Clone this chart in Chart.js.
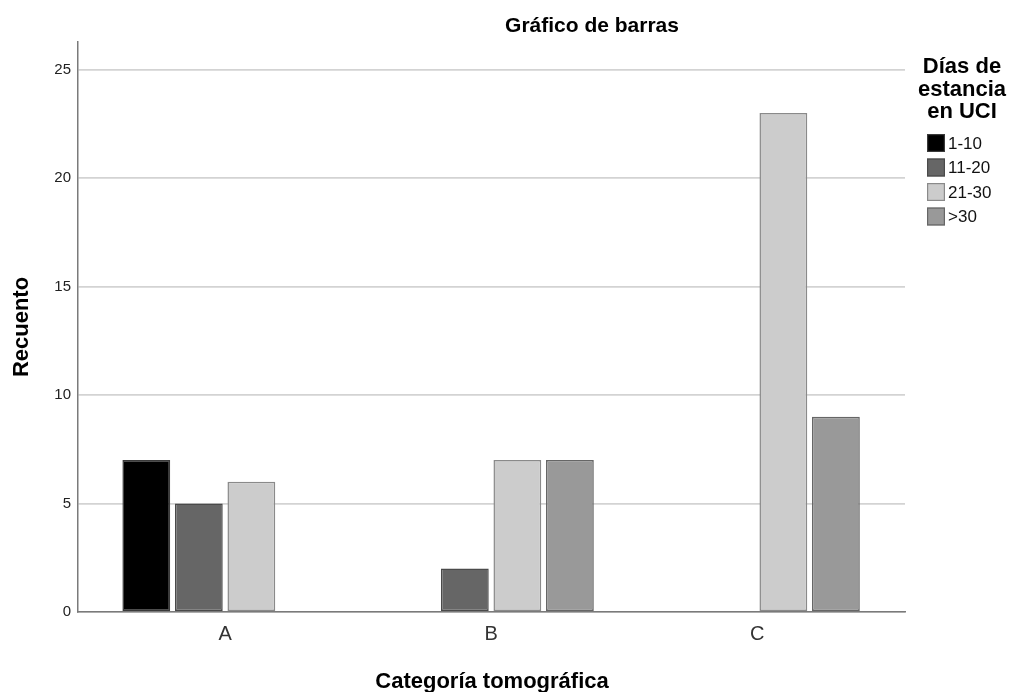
<!DOCTYPE html>
<html><head><meta charset="utf-8">
<script src="https://cdn.jsdelivr.net/npm/chart.js@4/dist/chart.umd.min.js"></script>
<style>html,body{margin:0;padding:0;background:#fff}#wrap{width:1011px;height:692px}</style>
</head><body><div id="wrap"><canvas id="c" width="1011" height="692"></canvas></div>
<script>
const categories = ['A', 'B', 'C'];
const seriesNames = ['1-10', '11-20', '21-30', '>30'];
const s1_10 = [7, null, null];
const s11_20 = [5, 2, null];
const s21_30 = [6, 7, 23];
const sOver30 = [null, 7, 9];
const yTicks = [0, 5, 10, 15, 20, 25];
const chartTitle = 'Gráfico de barras';
const xTitle = 'Categoría tomográfica';
const yTitle = 'Recuento';
const legendTitle = ['Días de', 'estancia', 'en UCI'];

const colors = ['#000000', '#666666', '#cccccc', '#999999'];
const borders = ['#3a3a3a', '#4a4a4a', '#8a8a8a', '#666666'];
const FONT = '"Liberation Sans", Arial, sans-serif';
const allSeries = [s1_10, s11_20, s21_30, sOver30];

const datasets = allSeries.map((arr, i) => ({
  label: seriesNames[i],
  data: arr.map((v, j) => ({x: j, y: v})),
  backgroundColor: colors[i],
  borderColor: borders[i],
  borderWidth: 1.5,
  borderSkipped: false,
  barPercentage: 0.91,
  categoryPercentage: 0.79
}));

const textPlugin = {
  id: 'texts',
  afterDraw(chart) {
    const ctx = chart.ctx;
    ctx.save();
    ctx.fillStyle = '#000';
    ctx.textAlign = 'center';
    ctx.textBaseline = 'alphabetic';
    ctx.font = 'bold 21px ' + FONT;
    ctx.fillText(chartTitle, 592, 32);
    ctx.font = 'bold 22px ' + FONT;
    ctx.fillText(xTitle, 492, 688);
    ctx.save();
    ctx.translate(28, 327);
    ctx.rotate(-Math.PI / 2);
    ctx.fillText(yTitle, 0, 0);
    ctx.restore();
    ctx.font = 'bold 22px ' + FONT;
    legendTitle.forEach((t, i) => ctx.fillText(t, 962, 73 + i * 22.5));
    ctx.textAlign = 'left';
    ctx.textBaseline = 'middle';
    ctx.font = '17px ' + FONT;
    seriesNames.forEach((n, i) => {
      const y = 143 + i * 24.5;
      ctx.fillStyle = colors[i];
      ctx.fillRect(927, y - 9, 18, 18);
      ctx.strokeStyle = borders[i];
      ctx.lineWidth = 1.2;
      ctx.strokeRect(927.6, y - 8.4, 16.8, 16.8);
      ctx.fillStyle = '#111';
      ctx.fillText(n, 948, y + 1);
    });
    ctx.restore();
  }
};

new Chart(document.getElementById('c'), {
  type: 'bar',
  data: { datasets },
  options: {
    responsive: false,
    animation: false,
    layout: { padding: { left: 0, top: 42, right: 106, bottom: 0 } },
    plugins: { legend: { display: false }, title: { display: false }, tooltip: { enabled: false } },
    scales: {
      x: {
        type: 'linear',
        offset: false,
        min: -0.553,
        max: 2.556,
        afterBuildTicks: (s) => { s.ticks = categories.map((c, i) => ({ value: i })); },
        afterFit: (s) => { s.height = 80; },
        ticks: {
          callback: (v) => categories[v],
          font: { family: FONT, size: 20 },
          color: '#333',
          padding: 10,
          maxRotation: 0
        },
        grid: { display: false, drawTicks: false, offset: false },
        border: { display: true, color: '#7a7a7a', width: 1.5 }
      },
      y: {
        min: 0,
        max: 26.27,
        afterBuildTicks: (s) => { s.ticks = yTicks.map(v => ({ value: v })); },
        afterFit: (s) => { s.width = 78; },
        ticks: {
          font: { family: FONT, size: 15 },
          color: '#222',
          padding: 7
        },
        grid: { color: '#d3d3d3', lineWidth: 1.8, drawTicks: false },
        border: { display: true, color: '#7a7a7a', width: 1.5 }
      }
    }
  },
  plugins: [textPlugin]
});
</script>
</body></html>
